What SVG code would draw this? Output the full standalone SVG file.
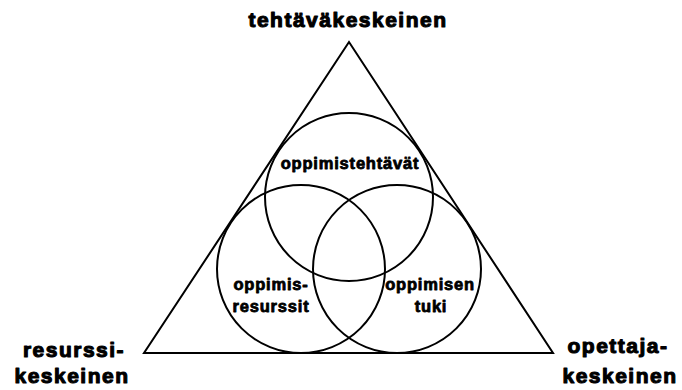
<svg xmlns="http://www.w3.org/2000/svg" width="682" height="390" viewBox="0 0 682 390">
<style>
.shape{fill:none;stroke:#000;stroke-width:2}
.big{font-family:"Liberation Sans",Arial,sans-serif;font-weight:bold;font-size:21px;letter-spacing:1.5px;fill:#000;stroke:#000;stroke-width:1.1;stroke-linejoin:round;text-anchor:middle}
.small{font-family:"Liberation Sans",Arial,sans-serif;font-weight:bold;font-size:16.5px;letter-spacing:0.8px;fill:#000;stroke:#000;stroke-width:0.8;stroke-linejoin:round;text-anchor:middle}
</style>
<rect width="682" height="390" fill="#fff"/>
<g id="triangle"><polygon class="shape" points="349,42 144,353 553,353"/></g>
<g id="circle-top"><circle class="shape" cx="349" cy="197" r="84"/><text class="small" x="350" y="169">oppimistehtävät</text></g>
<g id="circle-left"><circle class="shape" cx="301" cy="269" r="84"/><text class="small" x="271" y="290">oppimis-</text><text class="small" x="271" y="312">resurssit</text></g>
<g id="circle-right"><circle class="shape" cx="397" cy="269" r="84"/><text class="small" x="430" y="290">oppimisen</text><text class="small" x="431" y="312">tuki</text></g>
<g id="label-top"><text class="big" x="348" y="27">tehtäväkeskeinen</text></g>
<g id="label-left"><text class="big" x="74" y="357">resurssi-</text><text class="big" x="72" y="383">keskeinen</text></g>
<g id="label-right"><text class="big" x="618" y="353">opettaja-</text><text class="big" x="620" y="383">keskeinen</text></g>
<g id="connectors"></g>
</svg>
